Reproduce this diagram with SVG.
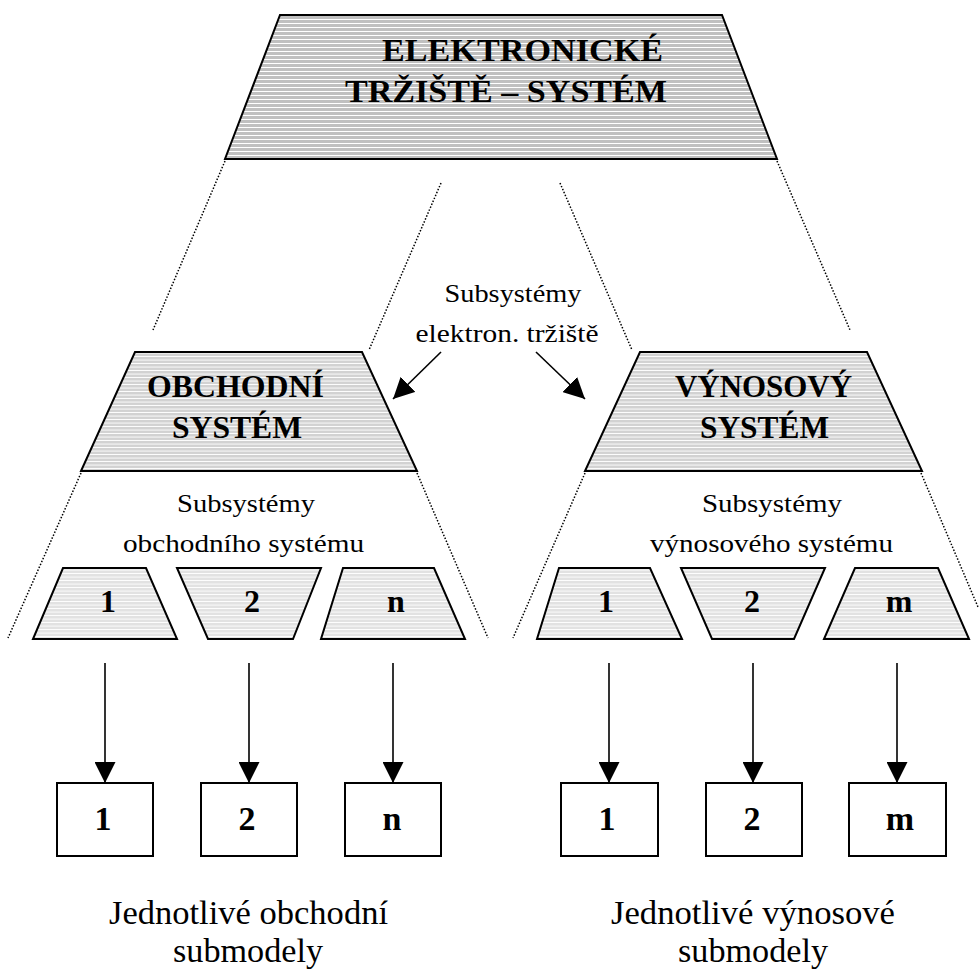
<svg xmlns="http://www.w3.org/2000/svg" width="979" height="969" viewBox="0 0 979 969">
  <style>
    .shape { stroke: #000; stroke-width: 2; stroke-linejoin: miter; }
    .box { fill: #fff; stroke: #000; stroke-width: 2; }
    .dots { stroke: #000; stroke-width: 1.5; stroke-dasharray: 1.5 1.7; fill: none; }
    .link { stroke: #000; stroke-width: 1.6; fill: none; }
    text { font-family: 'Liberation Serif', 'Times New Roman', Times, serif; fill: #000; text-anchor: middle; }
    .head { font-weight: bold; }
    .digit { font-weight: bold; font-size: 32px; }
    .num { font-weight: bold; font-size: 34px; }
  </style>
  <defs>
    <!-- hatched fills: grey bands separated by thin white lines -->
    <pattern id="hatchDark" patternUnits="userSpaceOnUse" width="8" height="4">
      <rect width="8" height="4" fill="#c0c0c0"/>
      <rect y="3" width="8" height="1" fill="#fff"/>
    </pattern>
    <pattern id="hatchMid" patternUnits="userSpaceOnUse" width="8" height="3.5">
      <rect width="8" height="3.5" fill="#d2d2d2"/>
      <rect y="2.6" width="8" height="0.9" fill="#fff"/>
    </pattern>
    <pattern id="hatchLight" patternUnits="userSpaceOnUse" width="8" height="3.5">
      <rect width="8" height="3.5" fill="#e2e2e2"/>
      <rect y="2.6" width="8" height="0.9" fill="#fff"/>
    </pattern>
    <marker id="arrow" viewBox="0 0 20 20" refX="20" refY="10" markerWidth="21" markerHeight="21" markerUnits="userSpaceOnUse" orient="auto">
      <path d="M0,0 L20,10 L0,20 Z" fill="#000"/>
    </marker>
  </defs>

  <!-- dotted projection lines and arrows -->
  <g id="connectors">
    <line class="dots" x1="225" y1="161" x2="153" y2="330"/>
    <line class="dots" x1="777" y1="161" x2="850" y2="330"/>
    <line class="dots" x1="441" y1="183" x2="369" y2="350"/>
    <line class="dots" x1="560" y1="183" x2="632" y2="350"/>
    <line class="dots" x1="81" y1="473" x2="8" y2="638"/>
    <line class="dots" x1="417" y1="473" x2="488" y2="638"/>
    <line class="dots" x1="585" y1="473" x2="513" y2="638"/>
    <line class="dots" x1="921" y1="473" x2="978" y2="607"/>

    <line class="link" x1="441" y1="352" x2="393" y2="399" marker-end="url(#arrow)"/>
    <line class="link" x1="536" y1="352" x2="585" y2="399" marker-end="url(#arrow)"/>

    <line class="link" x1="105" y1="663" x2="105" y2="783" marker-end="url(#arrow)"/>
    <line class="link" x1="249" y1="663" x2="249" y2="783" marker-end="url(#arrow)"/>
    <line class="link" x1="393" y1="663" x2="393" y2="783" marker-end="url(#arrow)"/>
    <line class="link" x1="609" y1="663" x2="609" y2="783" marker-end="url(#arrow)"/>
    <line class="link" x1="753" y1="663" x2="753" y2="783" marker-end="url(#arrow)"/>
    <line class="link" x1="897" y1="663" x2="897" y2="783" marker-end="url(#arrow)"/>
  </g>

  <!-- market system -->
  <g id="market">
    <polygon class="shape" fill="url(#hatchDark)" points="280,15 722,15 777,159 225,159"/>
    <text class="head" x="522.5" y="61" font-size="32" textLength="281" lengthAdjust="spacingAndGlyphs">ELEKTRONICKÉ</text>
    <text class="head" x="506" y="102" font-size="32" textLength="322" lengthAdjust="spacingAndGlyphs">TRŽIŠTĚ – SYSTÉM</text>
  </g>

  <g id="market-subsystems-label">
    <text x="513" y="302" font-size="26" textLength="137" lengthAdjust="spacingAndGlyphs">Subsystémy</text>
    <text x="507" y="342" font-size="26" textLength="183" lengthAdjust="spacingAndGlyphs">elektron. tržiště</text>
  </g>

  <!-- trade system -->
  <g id="trade">
    <polygon class="shape" fill="url(#hatchMid)" points="135,352 362,352 417,471 81,471"/>
    <text class="head" x="235.5" y="397" font-size="32" textLength="177" lengthAdjust="spacingAndGlyphs">OBCHODNÍ</text>
    <text class="head" x="237" y="438" font-size="32" textLength="130" lengthAdjust="spacingAndGlyphs">SYSTÉM</text>
  </g>

  <g id="trade-subsystems-label">
    <text x="246" y="512" font-size="26" textLength="138" lengthAdjust="spacingAndGlyphs">Subsystémy</text>
    <text x="243.5" y="552" font-size="26" textLength="241" lengthAdjust="spacingAndGlyphs">obchodního systému</text>
  </g>

  <!-- revenue system -->
  <g id="revenue">
    <polygon class="shape" fill="url(#hatchMid)" points="640,352 867,352 922,471 585,471"/>
    <text class="head" x="763.5" y="397" font-size="32" textLength="177" lengthAdjust="spacingAndGlyphs">VÝNOSOVÝ</text>
    <text class="head" x="764.5" y="438" font-size="32" textLength="129" lengthAdjust="spacingAndGlyphs">SYSTÉM</text>
  </g>

  <g id="revenue-subsystems-label">
    <text x="772" y="512" font-size="26" textLength="140" lengthAdjust="spacingAndGlyphs">Subsystémy</text>
    <text x="771.5" y="552" font-size="26" textLength="243" lengthAdjust="spacingAndGlyphs">výnosového systému</text>
  </g>

  <!-- trade subsystems -->
  <g id="trade-sub-1">
    <polygon class="shape" fill="url(#hatchLight)" points="63,568 146,568 177,639 33,639"/>
    <text class="digit" x="108" y="612">1</text>
  </g>
  <g id="trade-sub-2">
    <polygon class="shape" fill="url(#hatchLight)" points="177,568 321,568 293,639 208,639"/>
    <text class="digit" x="252" y="612">2</text>
  </g>
  <g id="trade-sub-n">
    <polygon class="shape" fill="url(#hatchLight)" points="343,568 434,568 465,639 321,639"/>
    <text class="digit" x="396" y="612">n</text>
  </g>

  <!-- revenue subsystems -->
  <g id="revenue-sub-1">
    <polygon class="shape" fill="url(#hatchLight)" points="559,568 650,568 682,639 537,639"/>
    <text class="digit" x="606" y="612">1</text>
  </g>
  <g id="revenue-sub-2">
    <polygon class="shape" fill="url(#hatchLight)" points="681,568 825,568 794,639 712,639"/>
    <text class="digit" x="752" y="612">2</text>
  </g>
  <g id="revenue-sub-m">
    <polygon class="shape" fill="url(#hatchLight)" points="855,568 938,568 969,639 824,639"/>
    <text class="digit" x="899" y="612">m</text>
  </g>

  <!-- individual submodels -->
  <g id="trade-model-1">
    <rect class="box" x="57" y="783" width="96" height="73"/>
    <text class="num" x="103" y="830">1</text>
  </g>
  <g id="trade-model-2">
    <rect class="box" x="201" y="783" width="96" height="73"/>
    <text class="num" x="247" y="830">2</text>
  </g>
  <g id="trade-model-n">
    <rect class="box" x="345" y="783" width="96" height="73"/>
    <text class="num" x="392" y="830">n</text>
  </g>
  <g id="revenue-model-1">
    <rect class="box" x="561" y="783" width="97" height="73"/>
    <text class="num" x="607" y="830">1</text>
  </g>
  <g id="revenue-model-2">
    <rect class="box" x="706" y="783" width="96" height="73"/>
    <text class="num" x="752" y="830">2</text>
  </g>
  <g id="revenue-model-m">
    <rect class="box" x="849" y="783" width="97" height="73"/>
    <text class="num" x="900" y="830">m</text>
  </g>

  <g id="trade-models-label">
    <text x="248.5" y="924" font-size="33" textLength="279" lengthAdjust="spacingAndGlyphs">Jednotlivé obchodní</text>
    <text x="248" y="962" font-size="33" textLength="150" lengthAdjust="spacingAndGlyphs">submodely</text>
  </g>
  <g id="revenue-models-label">
    <text x="753" y="924" font-size="33" textLength="284" lengthAdjust="spacingAndGlyphs">Jednotlivé výnosové</text>
    <text x="753" y="962" font-size="33" textLength="150" lengthAdjust="spacingAndGlyphs">submodely</text>
  </g>
</svg>
